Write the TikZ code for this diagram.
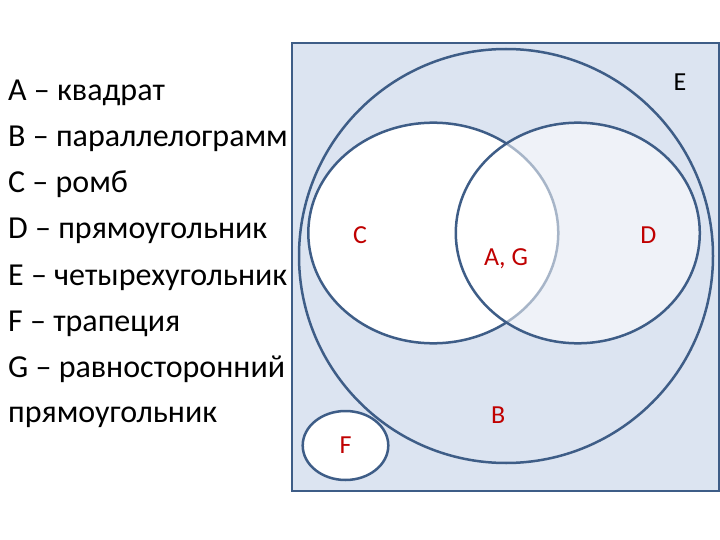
\documentclass[tikz,border=0pt]{standalone}
\usepackage{fontspec}
\setmainfont{Carlito}
\begin{document}
\begin{tikzpicture}[x=1pt,y=-1pt,
  setline/.style={draw=setblue,line width=2.5pt},
  lbl/.style={text=setred,font=\fontsize{26}{30}\selectfont,inner sep=0pt},
  leg/.style={anchor=base west,inner sep=0pt,font=\fontsize{32}{38}\selectfont}]
\definecolor{setblue}{HTML}{3E5D87}
\definecolor{bgblue}{HTML}{DCE4F1}
\definecolor{setred}{HTML}{C00000}
\useasboundingbox (0,0) rectangle (720,540);
\fill[white] (0,0) rectangle (720,540);
% universe E
\draw[draw=setblue,line width=2pt,fill=bgblue] (292,43) rectangle (719,491);
% B
\draw[setline] (506,256) circle [radius=207];
% C
\draw[setline,fill=white] (433.3,233) ellipse [x radius=125, y radius=110.3];
% D
\fill[white,fill opacity=0.55] (577.8,233) ellipse [x radius=122, y radius=110.3];
\draw[setline] (577.8,233) ellipse [x radius=122, y radius=110.3];
% F
\draw[setline,fill=white] (345.5,445.5) ellipse [x radius=42.8, y radius=34.5];
% labels
\node[lbl,text=black] (lE) at (680,81.7) {E};
\node[lbl] (lC) at (360,235) {C};
\node[lbl] (lAG) at (506,258.3) {A, G};
\node[lbl] (lD) at (648.3,235) {D};
\node[lbl] (lB) at (498.3,415) {B};
\node[lbl] (lF) at (345.7,445) {F};
% legend
\node[leg] (g1) at (8,101) {A – квадрат};
\node[leg] (g2) at (8,147) {B – параллелограмм};
\node[leg] (g3) at (8,193) {C – ромб};
\node[leg] (g4) at (8,239) {D – прямоугольник};
\node[leg] (g5) at (8,285) {E – четырехугольник};
\node[leg] (g6) at (8,331) {F – трапеция};
\node[leg] (g7) at (8,377) {G – равносторонний};
\node[leg] (g8) at (8,422) {прямоугольник};
\end{tikzpicture}
\end{document}
